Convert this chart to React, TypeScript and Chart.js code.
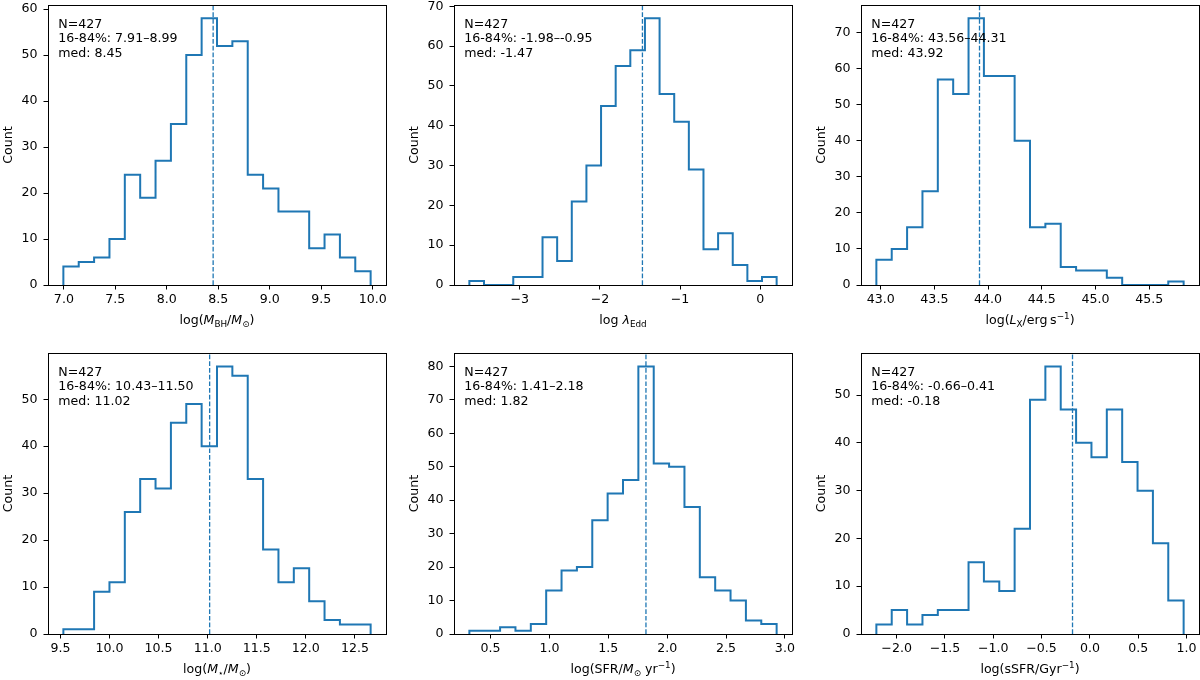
import React, { useEffect, useRef } from 'react';
import { Chart, registerables } from 'chart.js';

Chart.register(...registerables);

const FONT = "'DejaVu Sans', sans-serif";
const BLUE = '#1f77b4';
const FS = 12.6;

// ---------------- DATA ----------------
// Panel 1: black hole mass
const mbhCounts = [4, 5, 6, 10, 24, 19, 27, 35, 50, 58, 52, 53, 24, 21, 16, 16, 8, 11, 6, 3];
const mbhBinRange = [6.995, 9.98];
const mbhMedian = 8.45;
const mbhXTicks = [7.0, 7.5, 8.0, 8.5, 9.0, 9.5, 10.0];
const mbhYTicks = [0, 10, 20, 30, 40, 50, 60];
const mbhNote = ['N=427', '16-84%: 7.91–8.99', 'med: 8.45'];

// Panel 2: Eddington ratio
const leddCounts = [1, 0, 0, 2, 2, 12, 6, 21, 30, 45, 55, 59, 67, 48, 41, 29, 9, 13, 5, 1, 2];
const leddBinRange = [-3.63, 0.205];
const leddMedian = -1.47;
const leddXTicks = [-3, -2, -1, 0];
const leddYTicks = [0, 10, 20, 30, 40, 50, 60, 70];
const leddNote = ['N=427', '16-84%: -1.98–-0.95', 'med: -1.47'];

// Panel 3: X-ray luminosity
const lxCounts = [7, 10, 16, 26, 57, 53, 74, 58, 58, 40, 16, 17, 5, 4, 4, 2, 0, 0, 0, 1];
const lxBinRange = [42.96, 45.82];
const lxMedian = 43.92;
const lxXTicks = [43.0, 43.5, 44.0, 44.5, 45.0, 45.5];
const lxYTicks = [0, 10, 20, 30, 40, 50, 60, 70];
const lxNote = ['N=427', '16-84%: 43.56–44.31', 'med: 43.92'];

// Panel 4: stellar mass
const mstarCounts = [1, 1, 9, 11, 26, 33, 31, 45, 49, 40, 57, 55, 33, 18, 11, 14, 7, 3, 2, 2];
const mstarBinRange = [9.53, 12.66];
const mstarMedian = 11.02;
const mstarXTicks = [9.5, 10.0, 10.5, 11.0, 11.5, 12.0, 12.5];
const mstarYTicks = [0, 10, 20, 30, 40, 50];
const mstarNote = ['N=427', '16-84%: 10.43–11.50', 'med: 11.02'];

// Panel 5: SFR
const sfrCounts = [1, 1, 2, 1, 3, 13, 19, 20, 34, 42, 46, 80, 51, 50, 38, 17, 13, 10, 4, 3];
const sfrBinRange = [0.32, 2.93];
const sfrMedian = 1.82;
const sfrXTicks = [0.5, 1.0, 1.5, 2.0, 2.5, 3.0];
const sfrYTicks = [0, 10, 20, 30, 40, 50, 60, 70, 80];
const sfrNote = ['N=427', '16-84%: 1.41–2.18', 'med: 1.82'];

// Panel 6: sSFR
const ssfrCounts = [2, 5, 2, 4, 5, 5, 15, 11, 9, 22, 49, 56, 47, 40, 37, 47, 36, 30, 19, 7];
const ssfrBinRange = [-2.21, 0.97];
const ssfrMedian = -0.18;
const ssfrXTicks = [-2.0, -1.5, -1.0, -0.5, 0.0, 0.5, 1.0];
const ssfrYTicks = [0, 10, 20, 30, 40, 50];
const ssfrNote = ['N=427', '16-84%: -0.66–0.41', 'med: -0.18'];

type Seg = { t: string; i?: boolean; s?: 'sub' | 'sup' };

const mbhLabel: Seg[] = [{ t: 'log(' }, { t: 'M', i: true }, { t: 'BH', s: 'sub' }, { t: '/' }, { t: 'M', i: true }, { t: '⊙', s: 'sub' }, { t: ')' }];
const leddLabel: Seg[] = [{ t: 'log ' }, { t: 'λ', i: true }, { t: 'Edd', s: 'sub' }];
const lxLabel: Seg[] = [{ t: 'log(' }, { t: 'L', i: true }, { t: 'X', s: 'sub' }, { t: '/erg\u2009s' }, { t: '−1', s: 'sup' }, { t: ')' }];
const mstarLabel: Seg[] = [{ t: 'log(' }, { t: 'M', i: true }, { t: '⋆', s: 'sub' }, { t: '/' }, { t: 'M', i: true }, { t: '⊙', s: 'sub' }, { t: ')' }];
const sfrLabel: Seg[] = [{ t: 'log(SFR/' }, { t: 'M', i: true }, { t: '⊙', s: 'sub' }, { t: ' yr' }, { t: '−1', s: 'sup' }, { t: ')' }];
const ssfrLabel: Seg[] = [{ t: 'log(sSFR/Gyr' }, { t: '−1', s: 'sup' }, { t: ')' }];

type PanelDef = {
  counts: number[];
  range: number[];
  median: number;
  xTicks: number[];
  yTicks: number[];
  dec: number;
  note: string[];
  label: Seg[];
};

const PANELS: PanelDef[] = [
  { counts: mbhCounts, range: mbhBinRange, median: mbhMedian, xTicks: mbhXTicks, yTicks: mbhYTicks, dec: 1, note: mbhNote, label: mbhLabel },
  { counts: leddCounts, range: leddBinRange, median: leddMedian, xTicks: leddXTicks, yTicks: leddYTicks, dec: 0, note: leddNote, label: leddLabel },
  { counts: lxCounts, range: lxBinRange, median: lxMedian, xTicks: lxXTicks, yTicks: lxYTicks, dec: 1, note: lxNote, label: lxLabel },
  { counts: mstarCounts, range: mstarBinRange, median: mstarMedian, xTicks: mstarXTicks, yTicks: mstarYTicks, dec: 1, note: mstarNote, label: mstarLabel },
  { counts: sfrCounts, range: sfrBinRange, median: sfrMedian, xTicks: sfrXTicks, yTicks: sfrYTicks, dec: 1, note: sfrNote, label: sfrLabel },
  { counts: ssfrCounts, range: ssfrBinRange, median: ssfrMedian, xTicks: ssfrXTicks, yTicks: ssfrYTicks, dec: 1, note: ssfrNote, label: ssfrLabel },
];

// ---------------- LAYOUT ----------------
const BOXES = [
  { l: 48, t: 5, w: 338, h: 280 },
  { l: 454, t: 5, w: 338, h: 280 },
  { l: 861, t: 5, w: 338, h: 280 },
  { l: 48, t: 353, w: 338, h: 281 },
  { l: 454, t: 353, w: 338, h: 281 },
  { l: 861, t: 353, w: 338, h: 281 },
];
const PAD_T = 20;
const PAD_R = 30;
const AX_W = 50;
const AX_H = 50;

function fmt(v: number, dec: number): string {
  const s = Math.abs(v).toFixed(dec);
  return v < -1e-9 ? '−' + s : s;
}

function drawRich(ctx: CanvasRenderingContext2D, segs: Seg[], cx: number, baseline: number, size: number) {
  const parts = segs.map((s) => {
    const fs = s.s ? size * 0.7 : size;
    const font = `${s.i ? 'italic ' : ''}${fs}px ${FONT}`;
    ctx.font = font;
    const w = ctx.measureText(s.t).width;
    const dy = s.s === 'sub' ? size * 0.2 : s.s === 'sup' ? -size * 0.42 : 0;
    return { t: s.t, font, w, dy };
  });
  const total = parts.reduce((acc, q) => acc + q.w, 0);
  let x = cx - total / 2;
  ctx.textAlign = 'left';
  ctx.textBaseline = 'alphabetic';
  ctx.fillStyle = '#000';
  for (const q of parts) {
    ctx.font = q.font;
    ctx.fillText(q.t, x, baseline + q.dy);
    x += q.w;
  }
}

function HistPanel({ p, box }: { p: PanelDef; box: { l: number; t: number; w: number; h: number } }) {
  const ref = useRef<HTMLCanvasElement>(null);
  const cw = box.w + AX_W + PAD_R;
  const ch = box.h + PAD_T + AX_H;

  useEffect(() => {
    const n = p.counts.length;
    const [a, b] = p.range;
    const bw = (b - a) / n;
    const edges = Array.from({ length: n + 1 }, (_, i) => a + i * bw);
    const pts: { x: number; y: number }[] = [{ x: edges[0], y: 0 }];
    p.counts.forEach((c, i) => {
      pts.push({ x: edges[i], y: c });
      pts.push({ x: edges[i + 1], y: c });
    });
    pts.push({ x: edges[n], y: 0 });
    const span = b - a;
    const yMax = Math.max(...p.counts) * 1.05;

    const overlay = {
      id: 'overlay',
      afterDraw(chart: any) {
        const ctx: CanvasRenderingContext2D = chart.ctx;
        const ca = chart.chartArea;
        ctx.save();
        // frame
        ctx.strokeStyle = '#000';
        ctx.lineWidth = 1;
        ctx.strokeRect(Math.round(ca.left) + 0.5, Math.round(ca.top) + 0.5, Math.round(ca.right - ca.left), Math.round(ca.bottom - ca.top));
        // annotation
        ctx.fillStyle = '#000';
        ctx.font = `${FS}px ${FONT}`;
        ctx.textAlign = 'left';
        ctx.textBaseline = 'alphabetic';
        p.note.forEach((line, i) => {
          ctx.fillText(line, ca.left + 10.3, ca.top + 22.7 + i * 14.5);
        });
        // y title
        ctx.save();
        ctx.translate(ca.left - 36.3, (ca.top + ca.bottom) / 2);
        ctx.rotate(-Math.PI / 2);
        ctx.textAlign = 'center';
        ctx.textBaseline = 'alphabetic';
        ctx.font = `${FS}px ${FONT}`;
        ctx.fillText('Count', 0, 0);
        ctx.restore();
        // x title
        drawRich(ctx, p.label, (ca.left + ca.right) / 2, ca.bottom + 39, FS);
        ctx.restore();
      },
    };

    const chart = new Chart(ref.current as HTMLCanvasElement, {
      type: 'scatter',
      data: {
        datasets: [
          {
            data: pts,
            showLine: true,
            borderColor: BLUE,
            backgroundColor: BLUE,
            borderWidth: 2,
            pointRadius: 0,
            fill: false,
            tension: 0,
            borderJoinStyle: 'miter',
          } as any,
          {
            data: [
              { x: p.median, y: 0 },
              { x: p.median, y: yMax },
            ],
            showLine: true,
            borderColor: BLUE,
            borderWidth: 1.3,
            borderDash: [4.7, 2],
            pointRadius: 0,
            fill: false,
          } as any,
        ],
      },
      options: {
        animation: false,
        responsive: false,
        maintainAspectRatio: false,
        devicePixelRatio: 1,
        events: [],
        layout: { padding: { left: 0, top: PAD_T, right: PAD_R, bottom: 0 } },
        plugins: { legend: { display: false }, tooltip: { enabled: false }, title: { display: false } },
        scales: {
          x: {
            type: 'linear',
            min: a - 0.05 * span,
            max: b + 0.05 * span,
            afterBuildTicks: (s: any) => {
              s.ticks = p.xTicks.map((v) => ({ value: v }));
            },
            afterFit: (s: any) => {
              s.height = AX_H;
            },
            ticks: {
              callback: (v: any) => fmt(Number(v), p.dec),
              font: { family: FONT, size: FS },
              color: '#000',
              padding: 3,
              maxRotation: 0,
              autoSkip: false,
            },
            grid: { display: true, drawOnChartArea: false, drawTicks: true, tickLength: 4.5, color: '#000', lineWidth: 1 },
            border: { display: false },
          },
          y: {
            type: 'linear',
            min: 0,
            max: yMax,
            afterBuildTicks: (s: any) => {
              s.ticks = p.yTicks.map((v) => ({ value: v }));
            },
            afterFit: (s: any) => {
              s.width = AX_W;
            },
            ticks: {
              callback: (v: any) => fmt(Number(v), 0),
              font: { family: FONT, size: FS },
              color: '#000',
              padding: 6,
              autoSkip: false,
            },
            grid: { display: true, drawOnChartArea: false, drawTicks: true, tickLength: 4.5, color: '#000', lineWidth: 1 },
            border: { display: false },
          },
        },
      } as any,
      plugins: [overlay],
    });
    return () => chart.destroy();
  }, []);

  return (
    <canvas
      ref={ref}
      width={cw}
      height={ch}
      style={{ position: 'absolute', left: box.l - AX_W, top: box.t - PAD_T, width: cw, height: ch }}
    />
  );
}

export default function App() {
  return (
    <div style={{ position: 'fixed', left: 0, top: 0, width: 1200, height: 680, overflow: 'hidden', background: '#fff' }}>
      {PANELS.map((p, i) => (
        <HistPanel key={i} p={p} box={BOXES[i]} />
      ))}
    </div>
  );
}
